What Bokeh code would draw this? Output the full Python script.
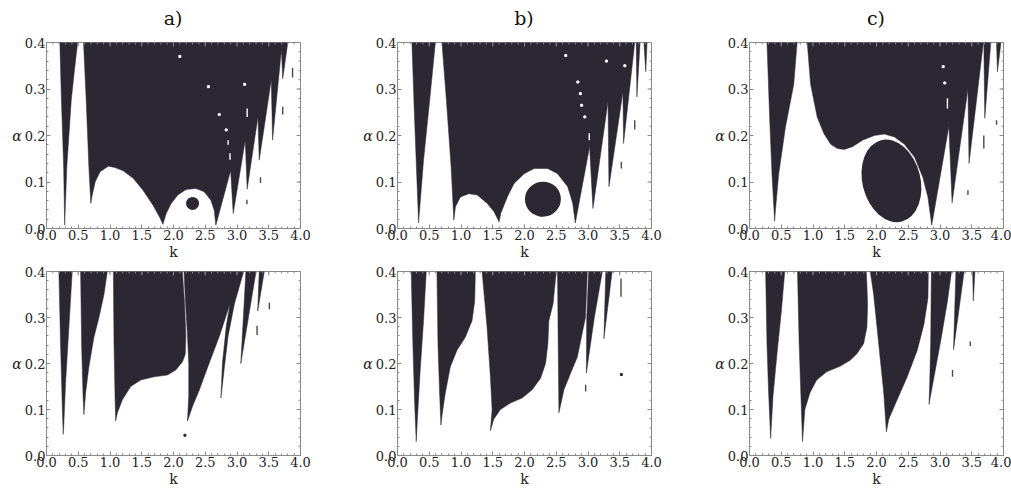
from bokeh.plotting import figure
from bokeh.layouts import column, row
from bokeh.models import Range1d, FixedTicker, PrintfTickFormatter, Div
from bokeh.embed import file_html
from bokeh.resources import INLINE

DARK = "#2b2834"
FRAME = "#8a8a8a"
SERIF = "DejaVu Serif"

X_TICKS = [0.0, 0.5, 1.0, 1.5, 2.0, 2.5, 3.0, 3.5, 4.0]
X_MINOR = [i / 10 for i in range(41)]
Y_TICKS = [0.0, 0.1, 0.2, 0.3, 0.4]
Y_MINOR = [i / 50 for i in range(21)]
PANEL_TITLES = ["a)", "b)", "c)"]

# ---------------- panel a ----------------
A_SPIKE1 = [(0.21, 0.40), (0.49, 0.40), (0.44, 0.34), (0.39, 0.276), (0.32, 0.133),
            (0.286, 0.007), (0.27, 0.133), (0.235, 0.276)]
A_MAIN = [(0.583, 0.40), (3.80, 0.40), (3.72, 0.322), (3.70, 0.385), (3.56, 0.19),
          (3.54, 0.32), (3.35, 0.147), (3.33, 0.24), (3.16, 0.085), (3.13, 0.19),
          (2.94, 0.032), (2.90, 0.125), (2.667, 0.007),
          (2.641, 0.039), (2.589, 0.061), (2.484, 0.079), (2.354, 0.086), (2.198, 0.084),
          (2.068, 0.072), (1.964, 0.054), (1.885, 0.032), (1.833, 0.009),
          (1.78, 0.025), (1.677, 0.050), (1.52, 0.082), (1.365, 0.108), (1.208, 0.124),
          (1.078, 0.131), (0.974, 0.134), (0.844, 0.122), (0.766, 0.100), (0.714, 0.068),
          (0.698, 0.054), (0.667, 0.133), (0.625, 0.276)]
A_ELLIPSES = [(2.30, 0.054, 13, 13, 0.0)]
A_DARK_DASHES = [((3.875, 0.325), (3.875, 0.345)), ((3.72, 0.245), (3.72, 0.262)),
                 ((3.37, 0.098), (3.37, 0.11)), ((3.156, 0.052), (3.156, 0.062))]
A_WHITE_DASHES = [((3.16, 0.24), (3.16, 0.258)), ((2.89, 0.148), (2.89, 0.162)),
                  ((2.86, 0.18), (2.86, 0.19))]
A_WHITE_DOTS = [(2.10, 0.37), (2.55, 0.305), (3.12, 0.31), (2.72, 0.245), (2.83, 0.212)]

# ---------------- panel b ----------------
B_SPIKE1 = [(0.227, 0.40), (0.596, 0.40), (0.507, 0.276), (0.41, 0.147), (0.36, 0.061),
            (0.332, 0.012), (0.306, 0.104), (0.264, 0.254)]
B_MAIN = [(0.70, 0.40), (3.736, 0.40), (3.56, 0.183), (3.55, 0.294), (3.33, 0.09),
          (3.315, 0.273), (3.078, 0.043), (3.025, 0.176), (2.80, 0.012),
          (2.76, 0.054), (2.68, 0.09), (2.52, 0.118), (2.364, 0.129), (2.153, 0.129),
          (1.995, 0.118), (1.836, 0.097), (1.73, 0.068), (1.625, 0.032), (1.60, 0.014),
          (1.52, 0.036), (1.414, 0.054), (1.256, 0.072), (1.124, 0.075), (0.992, 0.068),
          (0.913, 0.047), (0.887, 0.018), (0.844, 0.133), (0.77, 0.276)]
B_F4 = [(3.76, 0.40), (3.82, 0.40), (3.77, 0.283)]
B_F5 = [(3.88, 0.40), (3.93, 0.40), (3.91, 0.337)]
B_ELLIPSES = [(2.29, 0.063, 36, 35, 0.2)]
B_DARK_DASHES = [((3.736, 0.213), (3.736, 0.233)), ((3.525, 0.129), (3.525, 0.143))]
B_WHITE_DASHES = [((3.02, 0.19), (3.02, 0.205))]
B_WHITE_DOTS = [(2.65, 0.372), (2.84, 0.315), (2.88, 0.29), (2.90, 0.265), (2.95, 0.24),
                (3.29, 0.36), (3.58, 0.35)]

# ---------------- panel c ----------------
C_SPIKE1 = [(0.275, 0.40), (0.75, 0.40), (0.697, 0.31), (0.565, 0.217), (0.46, 0.117),
            (0.412, 0.045), (0.396, 0.016), (0.354, 0.117), (0.317, 0.239)]
C_MAIN = [(0.909, 0.40), (3.683, 0.40), (3.457, 0.14), (3.44, 0.30), (3.19, 0.055),
          (3.14, 0.22), (2.87, 0.007), (2.81, 0.067), (2.73, 0.11), (2.60, 0.153),
          (2.44, 0.181), (2.283, 0.197), (2.124, 0.203), (1.966, 0.20), (1.78, 0.19),
          (1.622, 0.176), (1.49, 0.17), (1.384, 0.172), (1.279, 0.181), (1.173, 0.204),
          (1.067, 0.239), (0.962, 0.31)]
C_F3 = [(3.69, 0.40), (3.80, 0.40), (3.705, 0.237)]
C_F4 = [(3.89, 0.40), (3.96, 0.40), (3.905, 0.337)]
C_ELLIPSES = [(2.235, 0.1025, 58, 84, 0.25)]
C_DARK_DASHES = [((3.69, 0.172), (3.69, 0.20)), ((3.89, 0.223), (3.89, 0.233)),
                 ((3.44, 0.072), (3.44, 0.082))]
C_WHITE_DASHES = [((3.117, 0.258), (3.117, 0.28))]
C_WHITE_DOTS = [(3.05, 0.348), (3.075, 0.313)]

# ---------------- panel d ----------------
D_SPIKE1 = [(0.195, 0.40), (0.405, 0.40), (0.353, 0.279), (0.30, 0.157), (0.274, 0.071),
            (0.263, 0.046), (0.247, 0.114), (0.221, 0.243)]
D_SPIKE2 = [(0.537, 0.40), (0.958, 0.40), (0.905, 0.35), (0.826, 0.30), (0.747, 0.257),
            (0.668, 0.193), (0.616, 0.136), (0.589, 0.089), (0.574, 0.136), (0.553, 0.243)]
D_LOBE = [(1.053, 0.40), (2.14, 0.40), (2.175, 0.33), (2.195, 0.26), (2.185, 0.22),
          (2.142, 0.204), (2.037, 0.186), (1.905, 0.175), (1.695, 0.171), (1.484, 0.164),
          (1.326, 0.15), (1.195, 0.121), (1.116, 0.093), (1.089, 0.075), (1.079, 0.129),
          (1.063, 0.243)]
D_RIGHT = [(2.165, 0.40), (3.105, 0.40), (2.96, 0.33), (2.86, 0.26), (2.80, 0.19),
           (2.747, 0.125), (2.77, 0.20), (2.83, 0.28), (2.89, 0.33), (2.724, 0.26),
           (2.56, 0.20), (2.40, 0.14), (2.30, 0.107), (2.22, 0.075), (2.24, 0.13),
           (2.24, 0.20), (2.22, 0.26), (2.19, 0.33)]
D_F2 = [(3.14, 0.40), (3.30, 0.40), (3.06, 0.20)]
D_F3 = [(3.35, 0.40), (3.43, 0.40), (3.326, 0.314)]
D_DARK_DASHES = [((3.51, 0.318), (3.51, 0.332)), ((3.316, 0.262), (3.316, 0.282))]
D_DARK_DOTS = [(2.18, 0.044)]

# ---------------- panel e ----------------
E_SPIKE1 = [(0.216, 0.40), (0.453, 0.40), (0.41, 0.293), (0.358, 0.186), (0.316, 0.086),
            (0.295, 0.03), (0.268, 0.121), (0.242, 0.243)]
E_SPIKE2 = [(0.621, 0.40), (1.226, 0.40), (1.216, 0.336), (1.174, 0.293), (1.068, 0.257),
            (0.937, 0.229), (0.832, 0.193), (0.753, 0.136), (0.70, 0.086), (0.684, 0.066),
            (0.663, 0.136), (0.637, 0.243)]
E_MAIN = [(1.332, 0.40), (2.50, 0.40), (2.45, 0.33), (2.384, 0.293), (2.368, 0.243),
          (2.332, 0.20), (2.253, 0.168), (2.121, 0.143), (1.963, 0.125), (1.779, 0.114),
          (1.621, 0.10), (1.516, 0.079), (1.463, 0.054), (1.49, 0.10), (1.463, 0.171),
          (1.41, 0.279)]
E_F1 = [(2.52, 0.40), (2.99, 0.40), (2.96, 0.30), (2.832, 0.214), (2.726, 0.179),
        (2.621, 0.143), (2.542, 0.093), (2.53, 0.25)]
E_F3 = [(3.01, 0.40), (3.226, 0.40), (3.10, 0.30), (2.974, 0.179), (2.98, 0.30)]
E_F4 = [(3.28, 0.40), (3.38, 0.40), (3.25, 0.254)]
E_DARK_DASHES = [((3.52, 0.345), (3.52, 0.385)), ((2.963, 0.139), (2.963, 0.154))]
E_DARK_DOTS = [(3.526, 0.176)]

# ---------------- panel f ----------------
F_SPIKE1 = [(0.254, 0.40), (0.555, 0.40), (0.502, 0.314), (0.433, 0.221), (0.37, 0.129),
            (0.333, 0.037), (0.301, 0.136), (0.275, 0.243)]
F_MAIN = [(0.756, 0.40), (1.839, 0.40), (1.849, 0.371), (1.86, 0.329), (1.849, 0.279),
          (1.797, 0.243), (1.691, 0.221), (1.585, 0.207), (1.427, 0.194), (1.215, 0.182),
          (1.057, 0.164), (0.951, 0.136), (0.872, 0.10), (0.835, 0.03), (0.808, 0.136),
          (0.782, 0.243)]
F_LOBE = [(1.902, 0.40), (2.816, 0.40), (2.811, 0.343), (2.748, 0.286), (2.642, 0.229),
          (2.484, 0.171), (2.325, 0.121), (2.193, 0.079), (2.156, 0.051), (2.114, 0.136),
          (2.061, 0.207), (2.008, 0.279), (1.955, 0.35)]
F_F1 = [(2.864, 0.40), (3.181, 0.40), (3.118, 0.336), (3.012, 0.25), (2.906, 0.171),
        (2.827, 0.111), (2.838, 0.157), (2.853, 0.243)]
F_F2 = [(3.25, 0.40), (3.38, 0.40), (3.213, 0.23)]
F_F3 = [(3.514, 0.40), (3.55, 0.40), (3.525, 0.336)]
F_DARK_DASHES = [((3.477, 0.238), (3.477, 0.248)), ((3.197, 0.171), (3.197, 0.186))]

FRAME_W = 254   # plot-area size in pixels
FRAME_H = 186
TITLE_H = 36    # height of the strip holding the panel letters


def make_title(col):
    left = [46, 60, 75][col]
    right = [37, 23, 8][col]
    return Div(text=PANEL_TITLES[col], width=337, height=TITLE_H, margin=(0, 0, 0, 0),
               styles={"font-family": SERIF, "font-size": "19px", "color": "#111111",
                       "text-align": "center", "line-height": f"{TITLE_H}px",
                       "padding-left": f"{left}px", "padding-right": f"{right}px",
                       "box-sizing": "border-box", "width": "337px"})


def make_panel(col, top, polys, ellipses=(), dark_dashes=(), white_dashes=(),
               white_dots=(), dark_dots=()):
    left = [46, 60, 75][col]
    right = [37, 23, 8][col]
    if top:
        height, tb, bb = 262 - TITLE_H, 42 - TITLE_H, 34
    else:
        height, tb, bb = 227, 9, 32
    p = figure(width=337, height=height, x_range=Range1d(0, 4), y_range=Range1d(0, 0.4),
               output_backend="svg", toolbar_location=None,
               min_border_left=left, min_border_right=right,
               min_border_top=tb, min_border_bottom=bb,
               x_axis_label="k", y_axis_label="α", title=None)
    p.grid.visible = False
    p.outline_line_color = FRAME
    p.background_fill_color = "white"
    p.border_fill_color = "white"

    p.patches([[pt[0] for pt in poly] for poly in polys],
              [[pt[1] for pt in poly] for poly in polys],
              fill_color=DARK, line_color=DARK, line_width=0.5)
    if ellipses:
        p.ellipse(x=[e[0] for e in ellipses], y=[e[1] for e in ellipses],
                  width=[e[2] for e in ellipses], height=[e[3] for e in ellipses],
                  angle=[e[4] for e in ellipses], width_units="screen",
                  height_units="screen", fill_color=DARK, line_color=None)
    if dark_dashes:
        p.multi_line([[d[0][0], d[1][0]] for d in dark_dashes],
                     [[d[0][1], d[1][1]] for d in dark_dashes],
                     line_color=DARK, line_width=1.4, line_alpha=0.85)
    if white_dashes:
        p.multi_line([[d[0][0], d[1][0]] for d in white_dashes],
                     [[d[0][1], d[1][1]] for d in white_dashes],
                     line_color="white", line_width=1.4)
    if white_dots:
        p.scatter([d[0] for d in white_dots], [d[1] for d in white_dots],
                  marker="square", size=2, color="white")
    if dark_dots:
        p.scatter([d[0] for d in dark_dots], [d[1] for d in dark_dots],
                  marker="square", size=2, color=DARK)

    # inward tick marks on the top and right frame edges
    ytop, xright = 0.4, 4.0
    dy_major, dy_minor = 4 * 0.4 / FRAME_H, 2 * 0.4 / FRAME_H
    dx_major, dx_minor = 4 * 4.0 / FRAME_W, 2 * 4.0 / FRAME_W
    xt = [t for t in X_MINOR] + X_TICKS
    xt_len = [dy_minor] * len(X_MINOR) + [dy_major] * len(X_TICKS)
    p.segment(x0=xt, y0=[ytop] * len(xt), x1=xt, y1=[ytop - d for d in xt_len],
              line_color=FRAME, line_width=1)
    yt = [t for t in Y_MINOR] + Y_TICKS
    yt_len = [dx_minor] * len(Y_MINOR) + [dx_major] * len(Y_TICKS)
    p.segment(x0=[xright] * len(yt), y0=yt, x1=[xright - d for d in yt_len], y1=yt,
              line_color=FRAME, line_width=1)

    xa = p.below[0]
    ya = p.left[0]
    xa.ticker = FixedTicker(ticks=X_TICKS, minor_ticks=X_MINOR)
    ya.ticker = FixedTicker(ticks=Y_TICKS, minor_ticks=Y_MINOR)
    for ax in (xa, ya):
        ax.axis_line_color = FRAME
        ax.major_tick_line_color = FRAME
        ax.minor_tick_line_color = FRAME
        ax.major_tick_in = 4
        ax.major_tick_out = 0
        ax.minor_tick_in = 2
        ax.minor_tick_out = 0
        ax.formatter = PrintfTickFormatter(format="%.1f")
        ax.major_label_text_font = SERIF
        ax.major_label_text_font_size = "13px"
        ax.major_label_text_color = "#222222"
        ax.major_label_standoff = 1
        ax.axis_label_text_font = SERIF
        ax.axis_label_text_font_size = "14px"
        ax.axis_label_text_color = "#222222"
        ax.axis_label_standoff = 1
    xa.axis_label_text_font_style = "normal"
    ya.axis_label_text_font_style = "italic"
    ya.axis_label_orientation = "horizontal"
    ya.axis_label_standoff = 0
    return p


pa = make_panel(0, True, [A_SPIKE1, A_MAIN], A_ELLIPSES, A_DARK_DASHES, A_WHITE_DASHES, A_WHITE_DOTS)
pb = make_panel(1, True, [B_SPIKE1, B_MAIN, B_F4, B_F5], B_ELLIPSES, B_DARK_DASHES, B_WHITE_DASHES, B_WHITE_DOTS)
pc = make_panel(2, True, [C_SPIKE1, C_MAIN, C_F3, C_F4], C_ELLIPSES, C_DARK_DASHES, C_WHITE_DASHES, C_WHITE_DOTS)
pd_ = make_panel(0, False, [D_SPIKE1, D_SPIKE2, D_LOBE, D_RIGHT, D_F2, D_F3], (), D_DARK_DASHES, (), (), D_DARK_DOTS)
pe = make_panel(1, False, [E_SPIKE1, E_SPIKE2, E_MAIN, E_F1, E_F3, E_F4], (), E_DARK_DASHES, (), (), E_DARK_DOTS)
pf = make_panel(2, False, [F_SPIKE1, F_MAIN, F_LOBE, F_F1, F_F2, F_F3], (), F_DARK_DASHES)

titles = row(make_title(0), make_title(1), make_title(2), spacing=0)
layout = column(titles, row(pa, pb, pc, spacing=0), row(pd_, pe, pf, spacing=0), spacing=0)
open("out.html", "w").write(file_html(layout, INLINE))
